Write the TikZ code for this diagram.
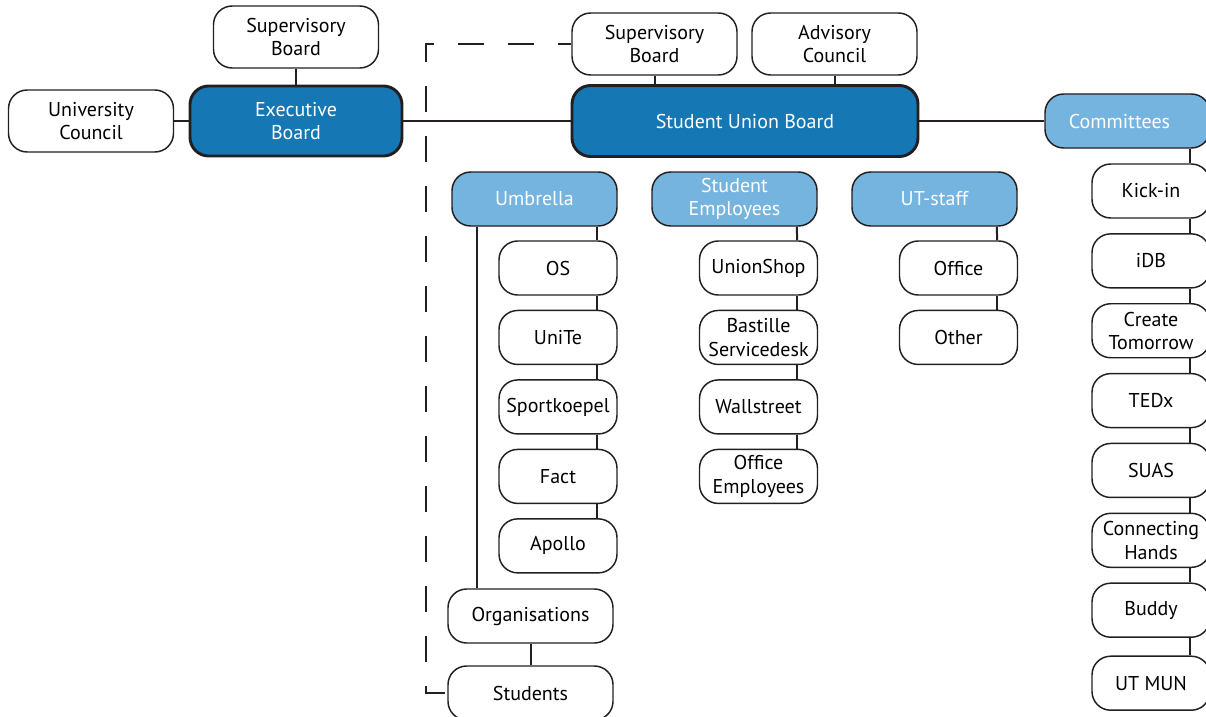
\documentclass[tikz,border=0pt]{standalone}
\usepackage{fontspec}
\setmainfont{PT Sans}
\usetikzlibrary{positioning}
\definecolor{darkblue}{RGB}{22,119,181}
\definecolor{lightblue}{RGB}{118,180,224}
\definecolor{linegray}{RGB}{35,31,32}

\begin{document}
\begin{tikzpicture}[x=0.75pt,y=-0.75pt,node distance=52.1pt,on grid,
   font=\fontsize{15}{17.5}\selectfont,
   box/.style={draw=linegray,line width=1.1pt,rounded corners=14pt,align=center,
     inner xsep=0pt,minimum width=123.75pt,minimum height=46.5pt},
   board/.style={box,fill=darkblue,text=white,line width=2.2pt,minimum height=52.5pt},
   group/.style={box,fill=lightblue,text=white,minimum height=40.5pt},
   item/.style={box,fill=white,minimum width=88.5pt,minimum height=40.5pt},
   conn/.style={draw=linegray,line width=1.5pt},
   dashline/.style={draw=linegray,line width=1.5pt,dash pattern=on 19.5pt off 18pt,dash phase=9.75pt}]
   \useasboundingbox (0,0) rectangle (1206,717);
   % boards
   \node[box] (sup_l) at (296,37) {Supervisory\\Board};
   \node[box] (uni_c) at (91,121) {University\\Council};
   \node[board,minimum width=159pt] (exec_b) at (296,121) {Executive\\Board};
   \node[board,minimum width=259.5pt,minimum height=53.25pt] (sub) at (745,121) {Student Union Board};
   \node[box] (sup_m) at (654.5,44) {Supervisory\\Board};
   \node[box] (adv_c) at (834.5,44) {Advisory\\Council};
   \node[group] (comm) at (1127.5,121) {Committees\hspace*{12pt}};
   % groups
   \node[group] (umbrella) at (534.5,199) {Umbrella};
   \node[group] (stud_emp) at (734.5,199) {Student\\Employees};
   \node[group] (ut_staff) at (934.5,199) {UT-staff};
   % umbrella
   \node[item] (os) at (558,268) {OS};
   \node[item] (unite) [below=of os] {UniTe};
   \node[item] (sport) [below=of unite] {Sportkoepel};
   \node[item] (fact) [below=of sport] {Fact};
   \node[item] (apollo) [below=of fact] {Apollo};
   \node[box,minimum height=40.5pt] (orgs) at (530.5,616) {Organisations};
   \node[box,minimum height=40.5pt] (students) at (530.5,693) {Students};
   % student employees
   \node[item] (union_shop) at (758.5,268) {UnionShop};
   \node[item] (bastille) [below=of union_shop] {Bastille\\Servicedesk};
   \node[item] (wallstreet) [below=of bastille] {Wallstreet};
   \node[item] (office_emp) [below=of wallstreet] {Office\\Employees};
   % ut-staff
   \node[item] (office) at (958.5,268) {Office};
   \node[item] (other) [below=of office] {Other};
   % committees
   \node[item] (kick_in) at (1151,191) {Kick-in};
   \node[item] (idb) [below=52.4pt of kick_in] {iDB};
   \node[item] (create_tom) [below=52.4pt of idb] {Create\\Tomorrow};
   \node[item] (tedx) [below=52.4pt of create_tom] {TEDx};
   \node[item] (suas) [below=52.4pt of tedx] {SUAS};
   \node[item] (conn_hands) [below=52.4pt of suas] {Connecting\\Hands};
   \node[item] (buddy) [below=52.4pt of conn_hands] {Buddy};
   \node[item] (ut_mun) [below=54.75pt of buddy] {UT MUN};

   \path[conn]
    (sup_l) edge (exec_b)
    (uni_c) edge (exec_b)
    (exec_b) edge (sub)
    (sub) edge (comm)
    (sup_m.south) edge (sup_m.south |- sub.north)
    (adv_c.south) edge (adv_c.south |- sub.north)
    ([xshift=-15.75pt]umbrella.south east) edge ([xshift=-15.75pt]os.north east)
    ([xshift=-15.75pt]os.south east) edge ([xshift=-15.75pt]unite.north east)
    ([xshift=-15.75pt]unite.south east) edge ([xshift=-15.75pt]sport.north east)
    ([xshift=-15.75pt]sport.south east) edge ([xshift=-15.75pt]fact.north east)
    ([xshift=-15.75pt]fact.south east) edge ([xshift=-15.75pt]apollo.north east)
    ([xshift=19.5pt]umbrella.south west) edge ([xshift=19.5pt]umbrella.south west |- orgs.north)
    (orgs) edge (students)
    ([xshift=-15.75pt]stud_emp.south east) edge ([xshift=-15.75pt]union_shop.north east)
    ([xshift=-15.75pt]union_shop.south east) edge ([xshift=-15.75pt]bastille.north east)
    ([xshift=-15.75pt]bastille.south east) edge ([xshift=-15.75pt]wallstreet.north east)
    ([xshift=-15.75pt]wallstreet.south east) edge ([xshift=-15.75pt]office_emp.north east)
    ([xshift=-15.75pt]ut_staff.south east) edge ([xshift=-15.75pt]office.north east)
    ([xshift=-15.75pt]office.south east) edge ([xshift=-15.75pt]other.north east)
    ([xshift=-15.75pt]comm.south east) edge ([xshift=-15.75pt]kick_in.north east)
    ([xshift=-15.75pt]kick_in.south east) edge ([xshift=-15.75pt]idb.north east)
    ([xshift=-15.75pt]idb.south east) edge ([xshift=-15.75pt]create_tom.north east)
    ([xshift=-15.75pt]create_tom.south east) edge ([xshift=-15.75pt]tedx.north east)
    ([xshift=-15.75pt]tedx.south east) edge ([xshift=-15.75pt]suas.north east)
    ([xshift=-15.75pt]suas.south east) edge ([xshift=-15.75pt]conn_hands.north east)
    ([xshift=-15.75pt]conn_hands.south east) edge ([xshift=-15.75pt]buddy.north east)
    ([xshift=-15.75pt]buddy.south east) edge ([xshift=-15.75pt]ut_mun.north east);

   % dashed link
   \coordinate (dash_x) at (426,0);
   \draw[dashline] (sup_m.west) -| (dash_x |- students.west) -- (students.west);
\end{tikzpicture}
\end{document}
